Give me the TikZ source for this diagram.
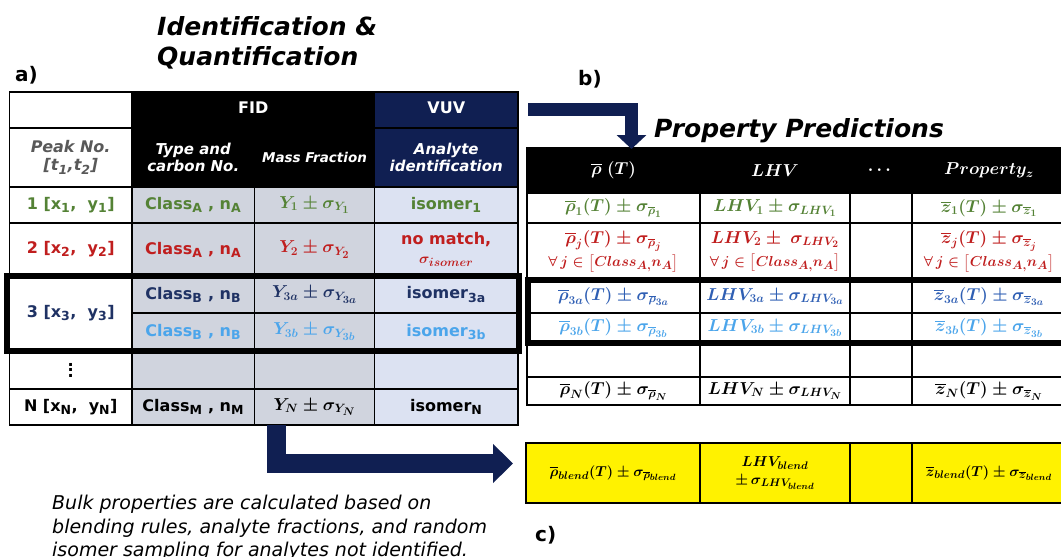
\documentclass[tikz,border=0pt]{standalone}
\usepackage{fontspec}
\usepackage{amsmath}
\setsansfont{DejaVu Sans}[BoldFont={DejaVu Sans Bold},ItalicFont={DejaVu Sans Oblique},BoldItalicFont={DejaVu Sans Bold Oblique}]
\usetikzlibrary{arrows.meta}
\DeclareMathSizes{14}{14}{11}{9}
\DeclareMathSizes{15}{15}{11.5}{9.5}
\DeclareMathSizes{16}{16}{12.5}{10}
\DeclareMathSizes{17}{17}{13}{10.5}
\definecolor{cgreen}{RGB}{84,130,53}
\definecolor{cred}{RGB}{192,30,30}
\definecolor{cnavy}{RGB}{31,50,100}
\definecolor{clblue}{RGB}{75,165,235}
\definecolor{cblue}{RGB}{47,95,180}
\definecolor{cgray}{RGB}{89,89,89}
\definecolor{fillgray}{RGB}{208,212,222}
\definecolor{filllav}{RGB}{220,226,242}
\definecolor{vuvnavy}{RGB}{16,31,82}
\definecolor{cyell}{RGB}{255,242,0}
\newcommand\tc[7]{\node[#6, minimum width={#4-(#2)}, minimum height={#5-(#3)}, anchor=north west] (#1) at (#2,#3) {#7};}
\newcommand\vdotsbold{\vbox{\baselineskip=5.5pt\lineskiplimit=-10pt\hbox{.}\hbox{.}\hbox{.}}}
\newcommand\allj{{\fontsize{15}{19}\selectfont$\forall\,j\in\left[Class_{A,}n_A\right]$}}
\begin{document}
\begin{tikzpicture}[x=1pt,y=-1pt,
  tb/.style={draw=black, line width=1.4pt, outer sep=0pt, inner sep=1pt, align=center},
  sfb/.style={font=\sffamily\bfseries\boldmath\fontsize{16}{19}\selectfont},
  hdr/.style={font=\sffamily\bfseries\itshape\fontsize{15}{17}\selectfont},
  hdrbig/.style={font=\sffamily\bfseries\itshape\fontsize{16}{18}\selectfont},
  hdrsmall/.style={font=\sffamily\bfseries\itshape\fontsize{13.5}{16}\selectfont},
  mth/.style={font=\boldmath\fontsize{17}{20}\selectfont},
  rmth/.style={font=\boldmath\fontsize{16}{21}\selectfont},
  ymth/.style={font=\boldmath\fontsize{14}{18}\selectfont},
  hmth/.style={font=\boldmath\fontsize{17}{20}\selectfont},
  title/.style={font=\sffamily\bfseries\itshape\fontsize{25}{30}\selectfont, inner sep=0pt, align=left},
  panel/.style={font=\sffamily\bfseries\fontsize{20}{24}\selectfont, inner sep=0pt},
  bigarrow/.style={draw=vuvnavy, line join=miter, line cap=butt}
]
\clip (0,0) rectangle (1061,557);
\fill[white] (0,0) rectangle (1061,557);
% ---------- titles ----------
\node[title, anchor=north west] (t1) at (157,16) {Identification \&\\Quantification};
\node[panel, anchor=base west] (pa) at (15,81) {a)};
\node[panel, anchor=base west] (pb) at (578,85) {b)};
\node[panel, anchor=base west] (pc) at (535,541) {c)};
\node[title, anchor=base west] (t2) at (654,137) {Property Predictions};
% ---------- left table ----------
\tc{h11}{9.5}{92}{132}{128}{tb,fill=white}{}
\tc{hfid}{132}{92}{374.5}{128}{tb,fill=black,text=white,sfb}{\raisebox{4pt}{FID}}
\tc{hvuv}{374.5}{92}{518}{128}{tb,fill=vuvnavy,text=white,sfb}{\raisebox{4pt}{VUV}}
\tc{h21}{9.5}{128}{132}{187}{tb,fill=white,text=cgray,hdrbig}{Peak No.\\{}[t\textsubscript{1},t\textsubscript{2}]}
\tc{h22}{132}{128}{254.5}{187}{tb,fill=black,text=white,hdr}{Type and\\carbon No.}
\tc{h23}{254.5}{128}{374.5}{187}{tb,fill=black,text=white,hdrsmall}{Mass Fraction}
\tc{h24}{374.5}{128}{518}{187}{tb,fill=vuvnavy,text=white,hdr}{Analyte\\identification}
% row 1
\tc{r1a}{9.5}{187}{132}{223}{tb,fill=white,sfb,text=cgreen}{1 [x\textsubscript{1},\ \ y\textsubscript{1}]}
\tc{r1b}{132}{187}{254.5}{223}{tb,fill=fillgray,sfb,text=cgreen}{Class\textsubscript{A} , n\textsubscript{A}}
\tc{r1c}{254.5}{187}{374.5}{223}{tb,fill=fillgray,mth,text=cgreen}{$Y_1\pm\sigma_{Y_1}$}
\tc{r1d}{374.5}{187}{518}{223}{tb,fill=filllav,sfb,text=cgreen}{isomer\textsubscript{1}}
% row 2
\tc{r2a}{9.5}{223}{132}{276}{tb,fill=white,sfb,text=cred}{2 [x\textsubscript{2},\ \ y\textsubscript{2}]}
\tc{r2b}{132}{223}{254.5}{276}{tb,fill=fillgray,sfb,text=cred}{Class\textsubscript{A} , n\textsubscript{A}}
\tc{r2c}{254.5}{223}{374.5}{276}{tb,fill=fillgray,mth,text=cred}{$Y_2\pm\sigma_{Y_2}$}
\tc{r2d}{374.5}{223}{518}{276}{tb,fill=filllav,sfb,text=cred}{no match,\\{\fontsize{15}{17}\selectfont$\sigma_{isomer}$}}
% row 3
\tc{r3a}{9.5}{276}{132}{351}{tb,fill=white,sfb,text=cnavy}{3 [x\textsubscript{3},\ \ y\textsubscript{3}]}
\tc{r3ab}{132}{276}{254.5}{313}{tb,fill=fillgray,sfb,text=cnavy}{Class\textsubscript{B} , n\textsubscript{B}}
\tc{r3ac}{254.5}{276}{374.5}{313}{tb,fill=fillgray,mth,text=cnavy}{$Y_{3a}\pm\sigma_{Y_{3a}}$}
\tc{r3ad}{374.5}{276}{518}{313}{tb,fill=filllav,sfb,text=cnavy}{isomer\textsubscript{3a}}
\tc{r3bb}{132}{313}{254.5}{351}{tb,fill=fillgray,sfb,text=clblue}{Class\textsubscript{B} , n\textsubscript{B}}
\tc{r3bc}{254.5}{313}{374.5}{351}{tb,fill=fillgray,mth,text=clblue}{$Y_{3b}\pm\sigma_{Y_{3b}}$}
\tc{r3bd}{374.5}{313}{518}{351}{tb,fill=filllav,sfb,text=clblue}{isomer\textsubscript{3b}}
% dots row
\tc{r4a}{9.5}{351}{132}{389}{tb,fill=white,sfb}{\vdotsbold}
\tc{r4b}{132}{351}{254.5}{389}{tb,fill=fillgray}{}
\tc{r4c}{254.5}{351}{374.5}{389}{tb,fill=fillgray}{}
\tc{r4d}{374.5}{351}{518}{389}{tb,fill=filllav}{}
% row N
\tc{r5a}{9.5}{389}{132}{425}{tb,fill=white,sfb}{N [x\textsubscript{N},\ \ y\textsubscript{N}]}
\tc{r5b}{132}{389}{254.5}{425}{tb,fill=fillgray,sfb}{Class\textsubscript{M} , n\textsubscript{M}}
\tc{r5c}{254.5}{389}{374.5}{425}{tb,fill=fillgray,mth}{$Y_N\pm\sigma_{Y_N}$}
\tc{r5d}{374.5}{389}{518}{425}{tb,fill=filllav,sfb}{isomer\textsubscript{N}}
\draw[line width=5.5pt] (7,276) rectangle (519,351);
% ---------- right table ----------
\tc{p0a}{527}{148}{700}{193}{tb,fill=black,text=white,hmth}{$\overline{\rho}\;(T)$}
\tc{p0b}{700}{148}{850}{193}{tb,fill=black,text=white,hmth}{$LHV$}
\tc{p0c}{850}{148}{912}{193}{tb,fill=black,text=white,hmth}{$\dots$}
\tc{p0d}{912}{148}{1066}{193}{tb,fill=black,text=white,hmth}{$Property_z$}
\tc{p1a}{527}{193}{700}{223}{tb,rmth,text=cgreen}{$\overline{\rho}_1(T)\pm\sigma_{\overline{\rho}_1}$}
\tc{p1b}{700}{193}{850}{223}{tb,rmth,text=cgreen}{$LHV_1\pm\sigma_{LHV_1}$}
\tc{p1c}{850}{193}{912}{223}{tb}{}
\tc{p1d}{912}{193}{1066}{223}{tb,rmth,text=cgreen}{$\overline{z}_1(T)\pm\sigma_{\overline{z}_1}$}
\tc{p2a}{527}{223}{700}{280}{tb,rmth,text=cred}{$\overline{\rho}_j(T)\pm\sigma_{\overline{\rho}_j}$\\[2pt]\allj}
\tc{p2b}{700}{223}{850}{280}{tb,rmth,text=cred}{$LHV_2\pm\ \sigma_{LHV_2}$\\[2pt]\allj}
\tc{p2c}{850}{223}{912}{280}{tb}{}
\tc{p2d}{912}{223}{1066}{280}{tb,rmth,text=cred}{$\overline{z}_j(T)\pm\sigma_{\overline{z}_j}$\\[2pt]\allj}
\tc{p3a}{527}{280}{700}{313}{tb,rmth,text=cblue}{$\overline{\rho}_{3a}(T)\pm\sigma_{\overline{\rho}_{3a}}$}
\tc{p3b}{700}{280}{850}{313}{tb,rmth,text=cblue}{$LHV_{3a}\pm\sigma_{LHV_{3a}}$}
\tc{p3c}{850}{280}{912}{313}{tb}{}
\tc{p3d}{912}{280}{1066}{313}{tb,rmth,text=cblue}{$\overline{z}_{3a}(T)\pm\sigma_{\overline{z}_{3a}}$}
\tc{p4a}{527}{313}{700}{343}{tb,rmth,text=clblue}{$\overline{\rho}_{3b}(T)\pm\sigma_{\overline{\rho}_{3b}}$}
\tc{p4b}{700}{313}{850}{343}{tb,rmth,text=clblue}{$LHV_{3b}\pm\sigma_{LHV_{3b}}$}
\tc{p4c}{850}{313}{912}{343}{tb}{}
\tc{p4d}{912}{313}{1066}{343}{tb,rmth,text=clblue}{$\overline{z}_{3b}(T)\pm\sigma_{\overline{z}_{3b}}$}
\tc{p5a}{527}{343}{700}{377}{tb}{}
\tc{p5b}{700}{343}{850}{377}{tb}{}
\tc{p5c}{850}{343}{912}{377}{tb}{}
\tc{p5d}{912}{343}{1066}{377}{tb}{}
\tc{p6a}{527}{377}{700}{405}{tb,rmth}{$\overline{\rho}_N(T)\pm\sigma_{\overline{\rho}_N}$}
\tc{p6b}{700}{377}{850}{405}{tb,rmth}{$LHV_N\pm\sigma_{LHV_N}$}
\tc{p6c}{850}{377}{912}{405}{tb}{}
\tc{p6d}{912}{377}{1066}{405}{tb,rmth}{$\overline{z}_N(T)\pm\sigma_{\overline{z}_N}$}
\draw[line width=5.5pt] (528,280) rectangle (1075,343);
% ---------- blend row ----------
\tc{ya}{526}{443}{700}{503}{tb,fill=cyell,ymth}{$\overline{\rho}_{blend}(T)\pm\sigma_{\overline{\rho}_{blend}}$}
\tc{yb}{700}{443}{850}{503}{tb,fill=cyell,ymth}{$LHV_{blend}$\\$\pm\,\sigma_{LHV_{blend}}$}
\tc{yc}{850}{443}{912}{503}{tb,fill=cyell}{}
\tc{yd}{912}{443}{1066}{503}{tb,fill=cyell,ymth}{$\overline{z}_{blend}(T)\pm\sigma_{\overline{z}_{blend}}$}
% ---------- arrows ----------
\coordinate (a1s) at ([xshift=10pt,yshift=-17.5pt]hvuv.north east);
\coordinate (a1e) at (631.5,149);
\draw[bigarrow, line width=13pt, -{Triangle[width=29pt,length=14pt]}] (a1s) -| (a1e);
\coordinate (a2s) at (276.5,425);
\coordinate (a2e) at (513,463.5);
\draw[bigarrow, line width=19pt, -{Triangle[width=38pt,length=20pt]}] (a2s) |- (a2e);
% ---------- note ----------
\node[font=\sffamily\itshape\fontsize{19}{23.5}\selectfont, align=left, anchor=north west, inner sep=0pt] (note) at (52,495) {Bulk properties are calculated based on\\blending rules, analyte fractions, and random\\isomer sampling for analytes not identified.};
\end{tikzpicture}
\end{document}
